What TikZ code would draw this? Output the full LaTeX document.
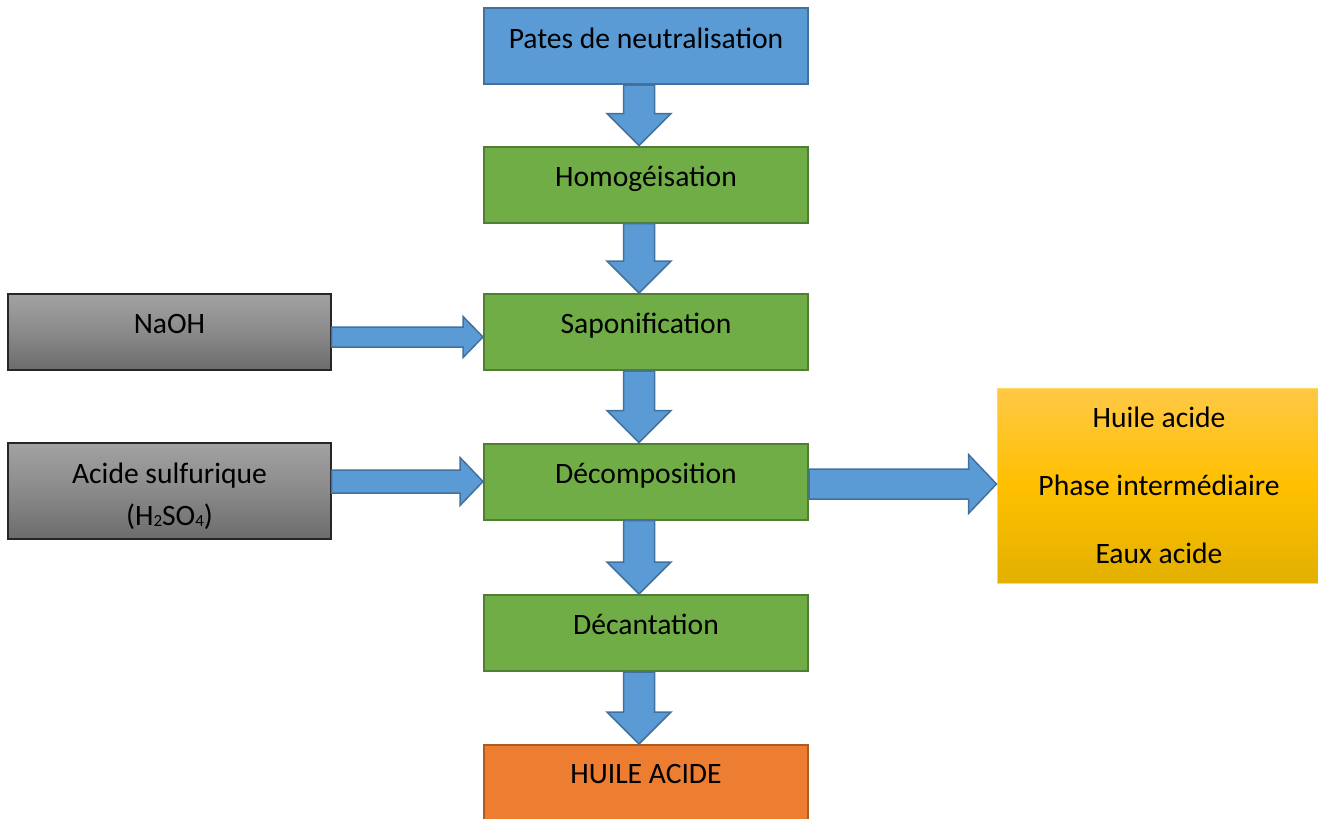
\documentclass[tikz,border=0pt]{standalone}
\usepackage{fontspec}
\setmainfont{Carlito}
\usetikzlibrary{calc}
\definecolor{bluefill}{HTML}{5B9BD5}
\definecolor{blueline}{HTML}{41719C}
\definecolor{greenfill}{HTML}{70AD47}
\definecolor{greenline}{HTML}{507E32}
\definecolor{orangefill}{HTML}{ED7D31}
\definecolor{orangeline}{HTML}{AE5A21}
\definecolor{graytop}{HTML}{A2A2A2}
\definecolor{graybot}{HTML}{6C6C6C}
\definecolor{graymid}{HTML}{8A8A8A}
\definecolor{yeltop}{HTML}{FFC846}
\definecolor{yelmid}{HTML}{FFC000}
\definecolor{yelbot}{HTML}{E2B000}
\tikzset{
  box/.style={rectangle, inner sep=0pt, line width=2pt},
  bluebox/.style={box, fill=bluefill, draw=blueline, minimum width=324pt, minimum height=76pt},
  greenbox/.style={box, fill=greenfill, draw=greenline, minimum width=324pt, minimum height=76pt},
  orangebox/.style={box, fill=orangefill, draw=orangeline, minimum width=324pt, minimum height=90pt},
  graybox/.style={box, line width=1.2pt, draw=black!85, top color=graytop, bottom color=graybot, middle color=graymid, minimum width=323pt},
  yellowbox/.style={box, line width=1pt, draw=yelmid!60, top color=yeltop, bottom color=yelbot, middle color=yelmid, minimum width=321pt, minimum height=195pt},
  txt/.style={anchor=base, inner sep=0pt, font=\fontsize{29.6}{35}\selectfont},
  barrow/.style={fill=bluefill, draw=blueline, line width=1.5pt, line join=miter},
}
\newcommand{\vblock}[2]{%
  \draw[barrow] let \p1=($(#1.south)+(-7,0)$), \p2=($(#2.north)+(-7,0)$) in
    (\x1-15.5pt,\y1) -- (\x1-15.5pt,\y2+32pt) -- (\x1-32pt,\y2+32pt) -- (\x1,\y2)
    -- (\x1+32pt,\y2+32pt) -- (\x1+15.5pt,\y2+32pt) -- (\x1+15.5pt,\y1) -- cycle;}
% #1 from, #2 to, #3 y center, #4 half shaft, #5 half head, #6 head length
\newcommand{\hblock}[6]{%
  \draw[barrow] let \p1=(#1.east), \p2=(#2.west) in
    (\x1,#3+#4) -- (\x2-#6,#3+#4) -- (\x2-#6,#3+#5) -- (\x2,#3)
    -- (\x2-#6,#3-#5) -- (\x2-#6,#3-#4) -- (\x1,#3-#4) -- cycle;}
\begin{document}
\begin{tikzpicture}[x=1pt,y=1pt]
\useasboundingbox (0,0) rectangle (1318,-819);
% boxes
\node[bluebox] (pates) at (646,-46) {};
\node[greenbox] (homo) at (646,-184.5) {};
\node[greenbox] (sapo) at (646,-332) {};
\node[greenbox] (deco) at (646,-481.5) {};
\node[greenbox] (deca) at (646,-633) {};
\node[orangebox] (huile) at (646,-790) {};
\node[graybox, minimum height=76pt] (naoh) at (169.5,-332) {};
\node[graybox, minimum height=96pt] (acide) at (169.5,-491) {};
\node[yellowbox] (phases) at (1157.5,-485.5) {};
% texts
\node[txt] (tpates) at (646,-48) {Pates de neutralisation};
\node[txt] (thomo) at (646,-186) {Homogéisation};
\node[txt] (tsapo) at (646,-333.5) {Saponification};
\node[txt] (tdeco) at (646,-483) {Décomposition};
\node[txt] (tdeca) at (646,-634.5) {Décantation};
\node[txt] (thuile) at (646,-783) {HUILE ACIDE};
\node[txt] (tnaoh) at (169.5,-333) {NaOH};
\node[txt] (tacide1) at (169.5,-483) {Acide sulfurique};
\node[txt] (tacide2) at (169.5,-525) {(H{\fontsize{17}{17}\selectfont\raisebox{-1pt}{2}}SO{\fontsize{17}{17}\selectfont\raisebox{-1pt}{4}})};
\node[txt] (tph1) at (1159,-427) {Huile acide};
\node[txt] (tph2) at (1159,-495) {Phase intermédiaire};
\node[txt] (tph3) at (1159,-563) {Eaux acide};
% arrows
\vblock{pates}{homo}
\vblock{homo}{sapo}
\vblock{sapo}{deco}
\vblock{deco}{deca}
\vblock{deca}{huile}
\hblock{naoh}{sapo}{-337pt}{10pt}{20.5pt}{20pt}
\hblock{acide}{deco}{-481.5pt}{11.5pt}{24pt}{23pt}
\hblock{deco}{phases}{-484pt}{15pt}{29.5pt}{28pt}
\end{tikzpicture}
\end{document}
